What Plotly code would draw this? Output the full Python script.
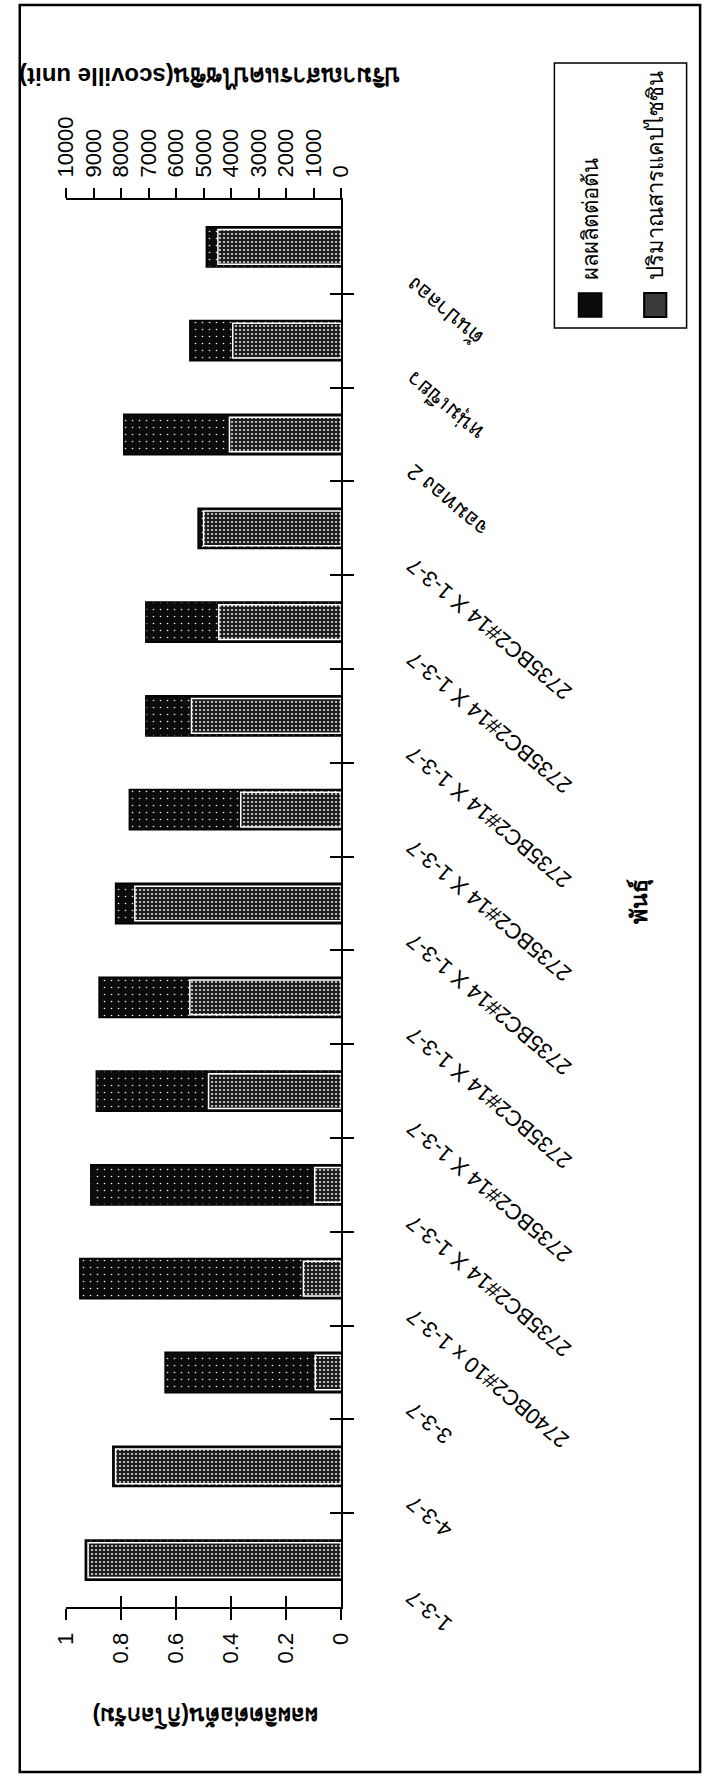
import plotly.graph_objects as go

W, H = 715, 1776

# Chilli lines, listed from the bottom of the chart to the top
varieties = [
    "1-3-7", "4-3-7", "3-3-7", "2740BC2#10 x 1-3-7",
    "2735BC2#14 X 1-3-7", "2735BC2#14 X 1-3-7", "2735BC2#14 X 1-3-7",
    "2735BC2#14 X 1-3-7", "2735BC2#14 X 1-3-7", "2735BC2#14 X 1-3-7",
    "2735BC2#14 X 1-3-7", "2735BC2#14 X 1-3-7",
    "จอมทอง 2", "หนุ่มเขียว", "ต้นปาลอง",
]
# yield per plant (kg)
yield_kg = [0.93, 0.83, 0.64, 0.95, 0.91, 0.89, 0.88, 0.82, 0.77, 0.71, 0.71, 0.52, 0.79, 0.55, 0.49]
# capsaicin content (Scoville units)
capsaicin_shu = [9200, 8200, 940, 1370, 960, 4820, 5500, 7500, 3650, 5440, 4450, 5000, 4060, 3940, 4480]

yield_ticks = [0, 0.2, 0.4, 0.6, 0.8, 1]
yield_ticktext = ["0", "0.2", "0.4", "0.6", "0.8", "1"]
caps_ticks = [0, 1000, 2000, 3000, 4000, 5000, 6000, 7000, 8000, 9000, 10000]
caps_ticktext = [str(v) for v in caps_ticks]

name_yield = "ผลผลิตต่อต้น"
name_caps = "ปริมาณสารแคปไซซิน"
title_yield = "ผลผลิตต่อต้น(กิโลกรัม)"
title_caps = "ปริมาณสารแคปไซซิน(scoville unit)"
title_variety = "พันธุ์"

FONT = "Arial, Liberation Sans, sans-serif"


def px(x):
    return x / W


def py(y):
    return 1 - y / H


positions = list(range(len(varieties)))
boundaries = [p + 0.5 for p in positions[:-1]]
X_DOM = [px(55), px(340)]
Y_DOM = [py(1607), py(200)]
Y_RANGE = [-0.5, len(varieties) - 0.5]

fig = go.Figure()
fig.add_trace(go.Bar(
    x=yield_kg, y=positions, orientation="h", xaxis="x", yaxis="y",
    width=0.43, name=name_yield, showlegend=False,
    marker=dict(color="#0b0b0b", line=dict(color="black", width=1.5),
                pattern=dict(shape=".", fillmode="replace", bgcolor="#0b0b0b",
                             fgcolor="#ffffff", size=7, solidity=0.04)),
))
fig.add_trace(go.Bar(
    x=capsaicin_shu, y=positions, orientation="h", xaxis="x2", yaxis="y",
    width=0.37, name=name_caps, showlegend=False,
    marker=dict(color="#262626", line=dict(color="white", width=1.5),
                pattern=dict(shape=".", fillmode="replace", bgcolor="#1c1c1c",
                             fgcolor="#ffffff", size=4, solidity=0.18)),
))
# carrier for the inner halves of the crossing tick marks
fig.add_trace(go.Scatter(x=[None], y=[None], xaxis="x3", yaxis="y3",
                         showlegend=False, hoverinfo="skip"))

axis_common = dict(showgrid=False, zeroline=False, linecolor="black",
                   tickcolor="black", tickfont=dict(size=22, color="black", family=FONT))

fig.update_layout(
    width=W, height=H, autosize=False,
    margin=dict(l=0, r=0, t=0, b=0),
    paper_bgcolor="white", plot_bgcolor="rgba(0,0,0,0)",
    font=dict(family=FONT, color="black", size=22),
    xaxis=dict(domain=X_DOM, range=[1, 0], anchor="y", side="bottom",
               showline=True, linewidth=2, ticks="outside", ticklen=11, tickwidth=2,
               tickvals=yield_ticks, ticktext=yield_ticktext, tickangle=-90,
               ticklabelstandoff=4, **axis_common),
    xaxis2=dict(domain=X_DOM, range=[10000, 0], anchor="y", side="top", overlaying="x",
                showline=True, linewidth=2, ticks="outside", ticklen=10, tickwidth=1.5,
                tickvals=caps_ticks, ticktext=caps_ticktext, tickangle=-90,
                ticklabelstandoff=6, **axis_common),
    xaxis3=dict(domain=X_DOM, range=[1, 0], anchor="y3", side="bottom", overlaying="x",
                showline=False, ticks="inside", ticklen=11, tickwidth=2,
                tickvals=yield_ticks, showticklabels=False, **axis_common),
    yaxis=dict(domain=Y_DOM, range=Y_RANGE, anchor="x", side="right",
               showline=True, linewidth=1.5, ticks="outside", ticklen=11, tickwidth=1.5,
               tickvals=boundaries, showticklabels=False, **axis_common),
    yaxis3=dict(range=Y_RANGE, anchor="x3", side="right", overlaying="y",
                showline=False, ticks="inside", ticklen=11, tickwidth=1.5,
                tickvals=boundaries, showticklabels=False, **axis_common),
)

annotations = []
# slanted variety names beside the category axis
for pos, label in zip(positions, varieties):
    annotations.append(dict(
        x=px(400), xref="paper", y=pos, yref="y", text=label, textangle=-140,
        xanchor="left", yanchor="top", yshift=-22, showarrow=False,
        font=dict(size=22, family=FONT, color="black"),
    ))
# axis titles
annotations += [
    dict(x=px(203), y=py(77), xref="paper", yref="paper", text="<b>%s</b>" % title_caps,
         textangle=180, xanchor="center", yanchor="middle", showarrow=False,
         font=dict(size=24, family=FONT)),
    dict(x=px(200), y=py(1717), xref="paper", yref="paper", text="<b>%s</b>" % title_yield,
         textangle=180, xanchor="center", yanchor="middle", showarrow=False,
         font=dict(size=23, family=FONT)),
    dict(x=px(650), y=py(902), xref="paper", yref="paper", text="<b>%s</b>" % title_variety,
         textangle=-90, xanchor="center", yanchor="middle", showarrow=False,
         font=dict(size=23, family=FONT)),
]
# legend entries
annotations += [
    dict(x=px(598), y=py(282), xref="paper", yref="paper", text=name_yield,
         textangle=-90, xanchor="center", yanchor="bottom", showarrow=False,
         font=dict(size=22, family=FONT)),
    dict(x=px(666), y=py(282), xref="paper", yref="paper", text=name_caps,
         textangle=-90, xanchor="center", yanchor="bottom", showarrow=False,
         font=dict(size=22, family=FONT)),
]

shapes = [
    # page frame
    dict(type="rect", xref="paper", yref="paper", x0=px(7), x1=px(712), y0=py(5), y1=py(1772),
         line=dict(color="black", width=2.5), fillcolor="rgba(0,0,0,0)"),
    # legend box and swatches
    dict(type="rect", xref="paper", yref="paper", x0=px(561), x1=px(698), y0=py(63), y1=py(328),
         line=dict(color="black", width=1.5), fillcolor="white"),
    dict(type="rect", xref="paper", yref="paper", x0=px(586), x1=px(610), y0=py(293), y1=py(317),
         line=dict(color="black", width=1.5), fillcolor="#0b0b0b"),
    dict(type="rect", xref="paper", yref="paper", x0=px(654), x1=px(677), y0=py(293), y1=py(317),
         line=dict(color="black", width=2), fillcolor="#3a3a3a"),
]

fig.update_layout(annotations=annotations, shapes=shapes)
fig.write_html("out.html")
